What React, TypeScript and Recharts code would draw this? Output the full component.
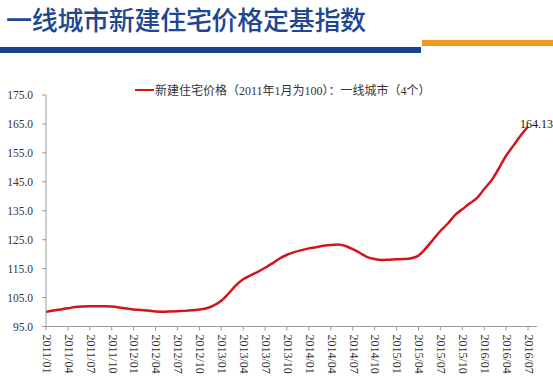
import { LineChart, Line, XAxis, YAxis, Legend } from "recharts";

const months: string[] = [];
for (let y = 2011; y <= 2016; y++) {
  for (let m = 1; m <= 12; m++) {
    if (y === 2016 && m > 7) break;
    months.push(`${y}/${m < 10 ? "0" + m : m}`);
  }
}

const indexValues = [
  100.0, 100.5, 100.9, 101.3, 101.7, 101.9, 102.0, 102.0, 102.0, 101.9, 101.6, 101.2,
  100.9, 100.7, 100.5, 100.2, 100.1, 100.2, 100.3, 100.4, 100.6, 100.9, 101.3, 102.3,
  103.9, 106.4, 109.2, 111.3, 112.7, 113.9, 115.3, 116.8, 118.5, 119.8, 120.7, 121.4,
  122.0, 122.4, 122.9, 123.2, 123.3, 122.8, 121.7, 120.4, 119.0, 118.3, 118.0, 118.1,
  118.2, 118.3, 118.6, 119.5, 122.0, 125.0, 128.0, 130.5, 133.5, 135.5, 137.5, 139.4,
  142.5, 145.5, 149.6, 154.0, 157.5, 161.0, 164.13,
];

const yTicks = [95, 105, 115, 125, 135, 145, 155, 165, 175];

const seriesName = "新建住宅价格（2011年1月为100）：一线城市（4个）";

const data = months.map((month, i) => ({ month, value: indexValues[i] }));

const serif = '"Liberation Serif", "Noto Sans CJK SC", serif';

const XTick = ({ x, y, payload }: any) => (
  <g transform={`translate(${x + 1},${y + 2}) rotate(90)`}>
    <text x={0} y={0} dy="0.35em" textAnchor="start" fontSize={12} fontFamily={serif} fill="#333">
      {payload.value}
    </text>
  </g>
);

const EndLabel = (props: any) => {
  const { x, y, index } = props;
  if (index !== indexValues.length - 1) return null;
  return (
    <text x={x - 8} y={y + 2} fontSize={12} fontFamily={serif} fill="#111">
      {indexValues[index].toFixed(2)}
    </text>
  );
};

const LegendContent = () => (
  <div style={{ display: "flex", alignItems: "center", fontFamily: serif, fontSize: 12, color: "#333" }}>
    <span style={{ display: "inline-block", width: 19, height: 2.5, background: "#d0161c", marginRight: 1 }} />
    <span>{seriesName}</span>
  </div>
);

export default function App() {
  return (
    <div style={{ position: "absolute", left: 0, top: 0, width: 553, height: 376, background: "#fff", overflow: "hidden" }}>
      <div
        style={{
          position: "absolute",
          left: 6,
          top: 2,
          fontFamily: '"Noto Sans CJK SC", sans-serif',
          fontWeight: 500,
          fontSize: 26,
          lineHeight: "34px",
          color: "#1f4690",
          letterSpacing: -0.3,
        }}
      >
        一线城市新建住宅价格定基指数
      </div>
      <div style={{ position: "absolute", left: 0, top: 47, width: 421, height: 6, background: "#17428c" }} />
      <div style={{ position: "absolute", left: 422, top: 40, width: 131, height: 6, background: "#f39a1e" }} />
      <div style={{ position: "absolute", left: 0, top: 0 }}>
        <LineChart width={553} height={376} data={data} margin={{ top: 77, right: 16, bottom: 0, left: 0 }}>
          <XAxis
            dataKey="month"
            interval={2}
            height={49.5}
            tick={<XTick />}
            tickSize={4}
            padding={{ left: 0, right: 9 }}
            stroke="#9a9a9a"
          />
          <YAxis
            domain={[95, 175]}
            ticks={yTicks}
            width={46}
            tickSize={4}
            tickMargin={9}
            tickFormatter={(v: number) => v.toFixed(1)}
            tick={{ fontSize: 11.5, fontFamily: serif, fill: "#333" }}
            stroke="#9a9a9a"
          />
          <Legend
            verticalAlign="top"
            align="left"
            content={<LegendContent />}
            wrapperStyle={{ top: 81, left: 135, width: 320 }}
          />
          <Line
            type="monotone"
            dataKey="value"
            name={seriesName}
            stroke="#d0161c"
            strokeWidth={2.5}
            dot={false}
            label={<EndLabel />}
            isAnimationActive={false}
          />
        </LineChart>
      </div>
    </div>
  );
}
